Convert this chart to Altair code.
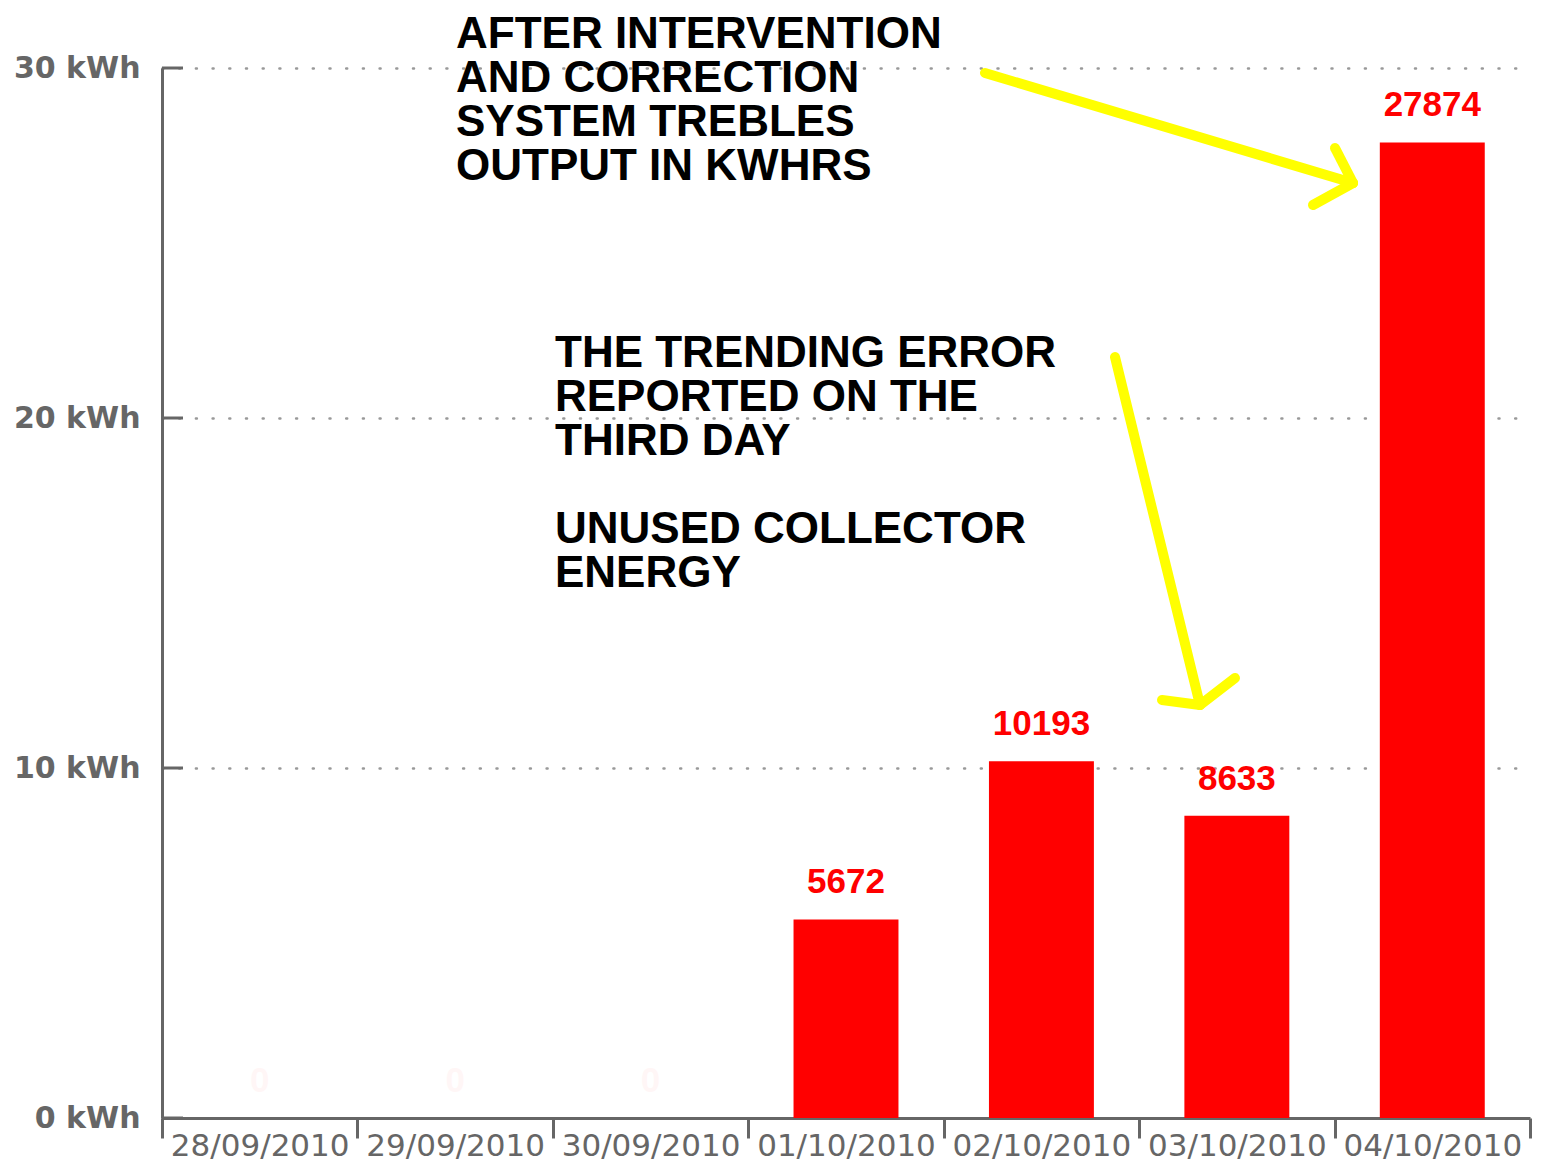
import altair as alt
import pandas as pd

# ---- data ----
dates = ["28/09/2010", "29/09/2010", "30/09/2010", "01/10/2010",
         "02/10/2010", "03/10/2010", "04/10/2010"]
wh = [0, 0, 0, 5672, 10193, 8633, 27874]
y_ticks = [0, 10, 20, 30]

note1 = "AFTER INTERVENTION\nAND CORRECTION\nSYSTEM TREBLES\nOUTPUT IN KWHRS"
note2 = "THE TRENDING ERROR\nREPORTED ON THE\nTHIRD DAY"
note3 = "UNUSED COLLECTOR\nENERGY"

# annotation placement (pixels relative to plot area)
note_x = [294, 393, 393]
note_y = [-20, 299, 475]

# arrow segments (pixels relative to plot area)
seg_x = [823, 1173, 1151, 953, 1000, 1073]
seg_y = [5, 80, 137, 289, 632, 610]
seg_x2 = [1191, 1191, 1191, 1038, 1038, 1038]
seg_y2 = [115, 115, 115, 637, 637, 637]

W, H = 1368, 1050

df = pd.DataFrame({"date": dates, "wh": wh})
df["kwh"] = df["wh"] / 1000.0
df["label"] = df["wh"].astype(str)

ydf = pd.DataFrame({"v": y_ticks})
ndf = pd.DataFrame({"text": [note1, note2, note3], "px": note_x, "py": note_y})
adf = pd.DataFrame({"x": seg_x, "y": seg_y, "x2": seg_x2, "y2": seg_y2})

xscale = alt.Scale(paddingInner=0, paddingOuter=0)
xenc = alt.X("date:N", sort=dates, title=None, scale=xscale,
             axis=alt.Axis(labelAngle=0, tickBand="extent", ticks=True,
                           tickSize=20, tickWidth=3, tickColor="#666",
                           domainColor="#666", domainWidth=3,
                           labelFont="DejaVu Sans", labelFontSize=31,
                           labelColor="#666", labelPadding=-7, grid=False))
yscale = alt.Scale(domain=[0, 30], nice=False)

bars = alt.Chart(df).mark_bar(color="#ff0000", width=alt.RelativeBandSize(0.537)).encode(
    x=xenc,
    y=alt.Y("kwh:Q", scale=yscale, title=None,
            axis=alt.Axis(values=y_ticks, labelExpr="datum.value + ' kWh'",
                          ticks=False, domainColor="#666", domainWidth=3,
                          labelFont="DejaVu Sans", labelFontWeight="bold",
                          labelFontSize=30, labelColor="#666", labelPadding=22,
                          grid=True, gridColor="#999", gridWidth=2.5,
                          gridDash=[1, 15.7], gridCap="round")),
)

labels = alt.Chart(df).mark_text(
    font="Liberation Sans", fontWeight="bold", fontSize=35, color="#ff0000",
    baseline="alphabetic", dy=-26
).encode(
    x=alt.X("date:N", sort=dates, scale=xscale),
    y=alt.Y("kwh:Q", scale=yscale),
    text="label:N",
    opacity=alt.condition("datum.wh == 0", alt.value(0.03), alt.value(1)),
)

yticks = alt.Chart(ydf).mark_rule(color="#666", strokeWidth=3).encode(
    y=alt.Y("v:Q", scale=yscale),
    x=alt.value(0), x2=alt.value(21),
)

base = alt.layer(bars, labels, yticks)

notes = alt.Chart(ndf).mark_text(
    font="Liberation Sans", fontWeight="bold", fontSize=44, color="#000",
    align="left", baseline="alphabetic", lineBreak="\n", lineHeight=44
).encode(
    x=alt.X("px:Q", scale=None, axis=None),
    y=alt.Y("py:Q", scale=None, axis=None),
    text="text:N",
)

arrows = alt.Chart(adf).mark_rule(color="#ffff00", strokeWidth=10, strokeCap="round").encode(
    x=alt.X("x:Q", scale=None, axis=None),
    y=alt.Y("y:Q", scale=None, axis=None),
    x2="x2:Q", y2="y2:Q",
)

chart = alt.layer(base, notes, arrows).resolve_scale(
    x="independent", y="independent"
).properties(
    width=W, height=H,
    autosize=alt.AutoSizeParams(type="none"),
    padding={"left": 154, "top": 60, "right": 2, "bottom": 44},
).configure_view(stroke=None)

chart.save("out.html", embed_options={"renderer": "svg", "actions": False})
